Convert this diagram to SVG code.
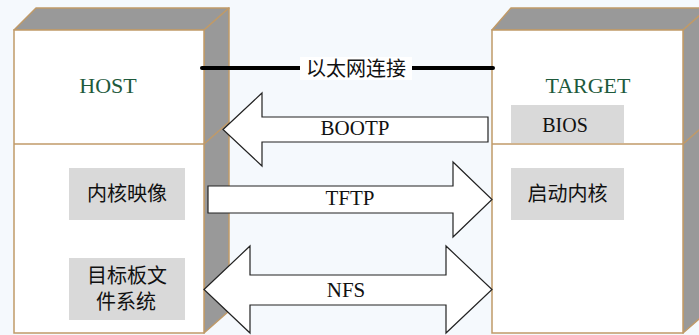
<svg xmlns="http://www.w3.org/2000/svg" width="699" height="335" viewBox="0 0 699 335">
<style>
.bg{fill:#f5f9fd}
.front{fill:#ffffff;stroke:#c09a68;stroke-width:1.5}
.shade{fill:#999999;stroke:#c09a68;stroke-width:1.5;stroke-linejoin:round}
.edge{stroke:#c09a68;stroke-width:1.5;fill:none}
.title{font-family:"Liberation Serif",serif;font-size:22px;fill:#1e5a3c;text-anchor:middle}
.lbl{font-family:"Liberation Serif",serif;font-size:21px;fill:#111;text-anchor:middle}
.cjk{font-family:"Liberation Sans","Noto Sans CJK SC",sans-serif;font-size:20px;fill:#111;text-anchor:middle}
.sub{fill:#d9d9d9}
.arrow{fill:#ffffff;stroke:#222;stroke-width:1.2;stroke-linejoin:miter}
</style>
<rect class="bg" x="0" y="0" width="699" height="335"/>
<g id="host">
  <polygon class="shade" points="14,30 36,8 229,8 204,30"/>
  <polygon class="shade" points="204,30 229,8 229,311 204,333"/>
  <rect class="front" x="14" y="30" width="190" height="303"/>
  <line class="edge" x1="14" y1="144" x2="204" y2="144"/>
  <line class="edge" x1="204" y1="144" x2="229" y2="122"/>
  <text class="title" x="108" y="93">HOST</text>
</g>
<g id="target">
  <polygon class="shade" points="492,30 511,8 708,8 683,30"/>
  <polygon class="shade" points="683,30 708,8 708,311 683,333"/>
  <rect class="front" x="492" y="30" width="191" height="303"/>
  <line class="edge" x1="492" y1="144" x2="683" y2="144"/>
  <line class="edge" x1="683" y1="144" x2="708" y2="122"/>
  <text class="title" x="588" y="93">TARGET</text>
</g>
<g id="kernel-image">
  <rect class="sub" x="69" y="168" width="116" height="52"/>
  <text class="cjk" x="127" y="200.5">内核映像</text>
</g>
<g id="target-fs">
  <rect class="sub" x="69" y="258" width="116" height="62"/>
  <text class="cjk" x="127" y="282.5">目标板文</text>
  <text class="cjk" x="126" y="308.5">件系统</text>
</g>
<g id="bios">
  <rect class="sub" x="511" y="105" width="113" height="38"/>
  <text class="lbl" x="565" y="131.5" style="font-size:20px">BIOS</text>
</g>
<g id="boot-kernel">
  <rect class="sub" x="511" y="168" width="113" height="52"/>
  <text class="cjk" x="567.5" y="200.5">启动内核</text>
</g>
<g id="connectors">
  <g id="ethernet">
    <line x1="202" y1="68" x2="493" y2="68" stroke="#000" stroke-width="4" stroke-linecap="round"/>
    <rect x="300" y="57" width="112" height="23" fill="#ffffff"/>
    <text class="cjk" x="356" y="75.5">以太网连接</text>
  </g>
  <g id="bootp">
    <polygon class="arrow" points="223,129.5 262,93 262,117 488,117 488,142 262,142 262,166"/>
    <text class="lbl" x="355" y="135">BOOTP</text>
  </g>
  <g id="tftp">
    <polygon class="arrow" points="208,186 453,186 453,162 492,199.5 453,237 453,213 208,213"/>
    <text class="lbl" x="350" y="204.5">TFTP</text>
  </g>
  <g id="nfs">
    <polygon class="arrow" points="204,289.5 250,246 250,275 446,275 446,246 492,289.5 446,333 446,305 250,305 250,333"/>
    <text class="lbl" x="346" y="297">NFS</text>
  </g>
</g>
</svg>
